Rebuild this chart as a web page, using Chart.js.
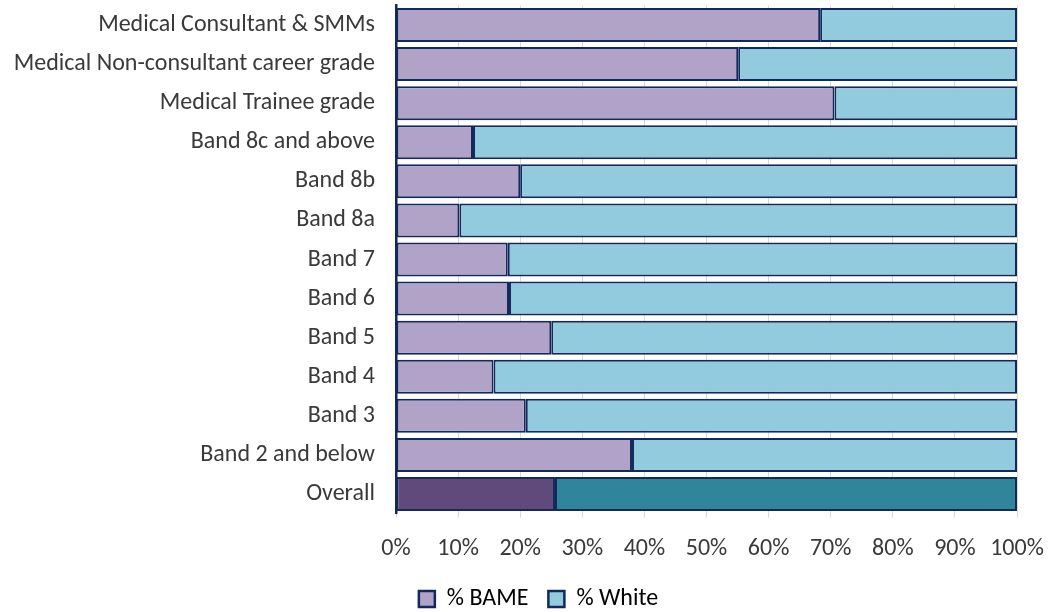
<!DOCTYPE html>
<html>
<head>
<meta charset="utf-8">
<script src="https://cdn.jsdelivr.net/npm/chart.js@4"></script>
<style>
  html, body { margin: 0; padding: 0; background: #ffffff; }
  #wrap { width: 1052px; height: 612px; position: relative; }
</style>
</head>
<body>
<div id="wrap"><canvas id="chart" width="1052" height="612"></canvas></div>
<script>
// Staff groups, top to bottom
const categories = [
  'Medical Consultant & SMMs',
  'Medical Non-consultant career grade',
  'Medical Trainee grade',
  'Band 8c and above',
  'Band 8b',
  'Band 8a',
  'Band 7',
  'Band 6',
  'Band 5',
  'Band 4',
  'Band 3',
  'Band 2 and below',
  'Overall'
];

// Share of staff in each group (%)
const bame  = [68.3, 55.1, 70.6, 12.4, 20.0, 10.2, 18.0, 18.2, 25.0, 15.7, 20.9, 38.0, 25.6];
const white = [31.7, 44.9, 29.4, 87.6, 80.0, 89.8, 82.0, 81.8, 75.0, 84.3, 79.1, 62.0, 74.4];

const seriesNames = ['% BAME', '% White'];
const xTicks = [0, 10, 20, 30, 40, 50, 60, 70, 80, 90, 100];

// Palette: light shades for groups, darker shades for the overall row
const bameLight = '#b1a2c7', bameDark = '#60497b';
const whiteLight = '#92cbdd', whiteDark = '#31859b';
const outline = '#13295c';
const textColor = '#3a3a3a';
const fontFamily = 'Carlito, Lato, "Open Sans", sans-serif';
const fontSize = 24;

const shade = (light, dark) => categories.map(c => c === 'Overall' ? dark : light);

// Moves the legend row to its final spot once the layout is done
const legendPlacement = {
  id: 'legendPlacement',
  afterLayout(chart) {
    const lg = chart.legend;
    if (!lg) return;
    const dy = 567 - lg.top;
    const dx = 30;
    lg.top += dy; lg.bottom += dy;
    lg.left += dx; lg.right += dx;
  }
};

new Chart(document.getElementById('chart'), {
  type: 'bar',
  data: {
    labels: categories,
    datasets: [
      {
        label: seriesNames[0],
        data: bame,
        backgroundColor: shade(bameLight, bameDark),
        borderColor: outline,
        borderWidth: 2,
        borderSkipped: false
      },
      {
        label: seriesNames[1],
        data: white,
        backgroundColor: shade(whiteLight, whiteDark),
        borderColor: outline,
        borderWidth: 2,
        borderSkipped: false
      }
    ]
  },
  plugins: [legendPlacement],
  options: {
    indexAxis: 'y',
    responsive: false,
    animation: false,
    devicePixelRatio: 1,
    categoryPercentage: 1,
    barPercentage: 0.87,
    layout: { padding: { top: 5.5, right: 35, left: 0, bottom: 0 } },
    scales: {
      x: {
        stacked: true,
        min: 0,
        max: 100,
        afterBuildTicks: s => { s.ticks = xTicks.map(v => ({ value: v })); },
        afterFit: s => { s.height = 44.5; s.paddingLeft = 0; s.paddingRight = 0; },
        border: { display: false },
        grid: { color: '#d9d9d9', lineWidth: 1, tickLength: 4 },
        ticks: {
          padding: 17.5,
          color: textColor,
          font: { family: fontFamily, size: fontSize },
          callback: v => v + '%'
        }
      },
      y: {
        stacked: true,
        afterFit: s => { s.width = 396; s.paddingTop = 0; s.paddingBottom = 0; },
        border: { display: true, color: outline, width: 2.5 },
        grid: { display: false, drawTicks: false },
        ticks: {
          padding: 21,
          color: textColor,
          font: { family: fontFamily, size: fontSize }
        }
      }
    },
    plugins: {
      tooltip: { enabled: false },
      legend: {
        position: 'bottom',
        labels: {
          color: textColor,
          font: { family: fontFamily, size: fontSize },
          boxWidth: 16,
          boxHeight: 16,
          padding: 20,
          generateLabels: chart => chart.data.datasets.map((ds, i) => ({
            text: ds.label,
            fillStyle: i === 0 ? bameLight : whiteLight,
            strokeStyle: outline,
            lineWidth: 2.5,
            datasetIndex: i,
            hidden: false
          }))
        }
      }
    }
  }
});
</script>
</body>
</html>
